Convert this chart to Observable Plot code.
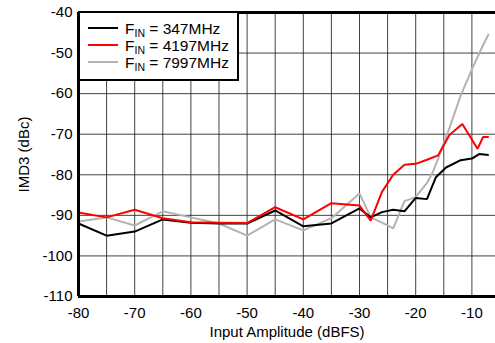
<!DOCTYPE html>
<html>
<head>
<meta charset="utf-8">
<script src="https://cdn.jsdelivr.net/npm/d3@7"></script>
<script src="https://cdn.jsdelivr.net/npm/@observablehq/plot@0.6"></script>
<style>
  html, body { margin: 0; padding: 0; background: #fff; overflow: hidden; }
  #wrap { position: relative; width: 495px; height: 343px; font-family: "Liberation Sans", Arial, Helvetica, sans-serif; }
  #legend { position: absolute; left: 78px; top: 11px; width: 157px; height: 66px; border: 2px solid #000; background: #fff; box-sizing: content-box; }
  .row { position: absolute; left: 0; height: 17px; font-size: 15.5px; line-height: 17px; white-space: nowrap; }
  .swatch { position: absolute; left: 8px; top: 7px; width: 30px; height: 2px; }
  .lab { position: absolute; left: 45px; top: 0; color: #000; }
  .lab sub { font-size: 10.5px; vertical-align: -3px; line-height: 0; }
</style>
</head>
<body>
<div id="wrap"></div>
<script>
// ---- data ----
const seriesNames = ["F_IN = 347MHz", "F_IN = 4197MHz", "F_IN = 7997MHz"];
const legendFreqs = ["347MHz", "4197MHz", "7997MHz"];
const seriesColors = ["#000000", "#ff0000", "#b3b3b3"];

const x347 = [-80, -75, -70, -65, -60, -55, -50, -45, -40, -35, -30, -28, -26, -24, -22, -20, -18, -16.4, -14.6, -12, -10, -8.7, -7];
const y347 = [-92, -95, -94, -91, -91.8, -92, -92, -88.8, -92.7, -92, -88.3, -90.5, -89.2, -88.6, -89, -85.7, -86, -80.6, -78.2, -76.4, -76, -74.9, -75.1];

const x4197 = [-80, -75, -70, -65, -60, -55, -50, -45, -40, -35, -30, -28, -26, -24, -22, -20, -18, -16, -14, -11.7, -9, -8, -7];
const y4197 = [-89.3, -90.5, -88.6, -90.7, -91.7, -91.8, -91.9, -88, -91, -87, -87.6, -91.3, -84.2, -80, -77.5, -77.3, -76.3, -75.2, -70.2, -67.5, -73.6, -70.7, -70.7];

const x7997 = [-80, -75, -70, -65, -60, -55, -50, -45, -40, -35, -30, -28, -26, -24, -22, -20, -18, -17, -16, -14, -12, -10, -8, -7];
const y7997 = [-91.5, -90.5, -92.5, -89, -90.5, -92, -95, -91, -93.7, -90.7, -84.6, -90.5, -91.8, -93.2, -86.5, -85.5, -82, -79.5, -76, -68.5, -60.5, -54, -48, -45.3];

const xTicks = [-80, -70, -60, -50, -40, -30, -20, -10];
const xGrid = [-75, -70, -65, -60, -55, -50, -45, -40, -35, -30, -25, -20, -15, -10];
const yTicks = [-110, -100, -90, -80, -70, -60, -50, -40];
const xDomain = [-80, -5.8];
const yDomain = [-110, -40];

// ---- build table ----
const table = [];
[[x347, y347], [x4197, y4197], [x7997, y7997]].forEach(([xs, ys], i) => {
  xs.forEach((x, j) => table.push({series: seriesNames[i], x, y: ys[j]}));
});
const drawOrder = [seriesNames[2], seriesNames[0], seriesNames[1]];

const font = '"Liberation Sans", Arial, Helvetica, sans-serif';

const chart = Plot.plot({
  width: 495,
  height: 343,
  marginLeft: 78,
  marginRight: 0,
  marginTop: 12,
  marginBottom: 47,
  style: {fontFamily: font, fontSize: "15px", color: "#000", background: "#fff"},
  x: {domain: xDomain},
  y: {domain: yDomain},
  color: {domain: seriesNames, range: seriesColors},
  marks: [
    Plot.gridX(xGrid, {stroke: "#222", strokeOpacity: 0.85, strokeWidth: 1}),
    Plot.gridY(yTicks, {stroke: "#222", strokeOpacity: 0.85, strokeWidth: 1}),
    ...drawOrder.map(name => Plot.line(table.filter(d => d.series === name), {
      x: "x", y: "y", stroke: "series", strokeWidth: 2, strokeLinejoin: "miter", strokeLinecap: "butt"
    })),
    Plot.ruleX([xDomain[0]], {stroke: "#000", strokeWidth: 3}),
    Plot.ruleY(yDomain, {stroke: "#000", strokeWidth: 3}),
    Plot.axisX(xTicks, {
      tickSize: 0, tickPadding: 11, tickFormat: d => `${d}`,
      label: "Input Amplitude (dBFS)", labelAnchor: "center", labelArrow: "none", labelOffset: 40
    }),
    Plot.axisY(yTicks, {
      tickSize: 0, tickPadding: 6, tickFormat: d => `${d}`,
      label: "IMD3 (dBc)", labelAnchor: "center", labelArrow: "none", labelOffset: 60
    })
  ]
});

const wrap = document.getElementById("wrap");
wrap.appendChild(chart);

// legend overlay
const legend = document.createElement("div");
legend.id = "legend";
legendFreqs.forEach((f, i) => {
  const row = document.createElement("div");
  row.className = "row";
  row.style.top = (7 + i * 17) + "px";
  row.style.width = "157px";
  const sw = document.createElement("span");
  sw.className = "swatch";
  sw.style.background = seriesColors[i];
  const lab = document.createElement("span");
  lab.className = "lab";
  lab.innerHTML = "F<sub>IN</sub> = " + f;
  row.appendChild(sw);
  row.appendChild(lab);
  legend.appendChild(row);
});
wrap.appendChild(legend);
</script>
</body>
</html>
